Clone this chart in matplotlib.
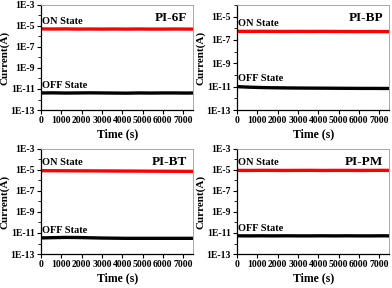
"""
Retention test of the four PI memory devices (ON / OFF current vs time).
"""

import math
import matplotlib.pyplot as plt
from matplotlib.ticker import LogLocator, FixedLocator, FuncFormatter, NullFormatter

plt.rcParams["font.family"] = ["Liberation Serif", "DejaVu Serif"]
plt.rcParams["font.weight"] = "bold"

# sample times (s)
time_s = [0, 600, 1200, 1800, 2400, 3000, 3600, 4200, 4800, 5400, 6000, 6600, 7200, 7500]

names = ["PI-6F", "PI-BP", "PI-BT", "PI-PM"]

on_6f = [5.2e-6, 5.1e-6, 5.2e-6, 5.0e-6, 5.1e-6, 5.0e-6, 5.1e-6, 5.0e-6, 5.1e-6, 5.0e-6, 5.0e-6, 5.1e-6, 5.0e-6, 5.0e-6]
off_6f = [4.2e-12, 4.3e-12, 4.1e-12, 4.2e-12, 4.3e-12, 4.2e-12, 4.1e-12, 4.0e-12, 4.2e-12, 4.1e-12, 4.2e-12, 4.2e-12, 4.1e-12, 4.2e-12]

on_bp = [5.5e-7, 5.4e-7, 5.5e-7, 5.4e-7, 5.3e-7, 5.4e-7, 5.3e-7, 5.4e-7, 5.3e-7, 5.3e-7, 5.2e-7, 5.3e-7, 5.2e-7, 5.2e-7]
off_bp = [1.0e-11, 9.0e-12, 8.4e-12, 8.0e-12, 7.8e-12, 7.6e-12, 7.5e-12, 7.4e-12, 7.3e-12, 7.2e-12, 7.1e-12, 7.1e-12, 7.0e-12, 7.0e-12]

on_bt = [8.5e-6, 8.4e-6, 8.3e-6, 8.2e-6, 8.1e-6, 8.0e-6, 7.9e-6, 7.8e-6, 7.7e-6, 7.6e-6, 7.5e-6, 7.4e-6, 7.3e-6, 7.3e-6]
off_bt = [3.4e-12, 3.6e-12, 3.8e-12, 3.7e-12, 3.5e-12, 3.3e-12, 3.2e-12, 3.1e-12, 3.1e-12, 3.1e-12, 3.1e-12, 3.1e-12, 3.1e-12, 3.1e-12]

on_pm = [9.0e-6, 8.9e-6, 9.1e-6, 9.0e-6, 8.9e-6, 9.0e-6, 9.1e-6, 8.9e-6, 9.0e-6, 9.0e-6, 8.9e-6, 9.0e-6, 9.1e-6, 9.0e-6]
off_pm = [5.4e-12, 5.3e-12, 5.4e-12, 5.3e-12, 5.4e-12, 5.3e-12, 5.3e-12, 5.4e-12, 5.3e-12, 5.4e-12, 5.3e-12, 5.3e-12, 5.4e-12, 5.3e-12]

on_series = [on_6f, on_bp, on_bt, on_pm]
off_series = [off_6f, off_bp, off_bt, off_pm]
y_top = [1e-3, 1e-4, 1e-3, 1e-3]
major_exp = [[-13, -11, -9, -7, -5, -3], [-13, -11, -9, -7, -5],
             [-13, -11, -9, -7, -5, -3], [-13, -11, -9, -7, -5, -3]]
x_ticks = [0, 1000, 2000, 3000, 4000, 5000, 6000, 7000]


def exp_label(v, pos):
    return "1E%d" % round(math.log10(v))


fig = plt.figure(figsize=(3.92, 2.88), dpi=100)
positions = [
    [0.105, 0.618, 0.388, 0.365],
    [0.605, 0.618, 0.388, 0.365],
    [0.105, 0.118, 0.388, 0.365],
    [0.605, 0.118, 0.388, 0.365],
]

for i, name in enumerate(names):
    ax = fig.add_axes(positions[i])
    ax.plot(time_s, on_series[i], color="#ff0000", lw=2.4)
    ax.plot(time_s, off_series[i], color="black", lw=2.4)
    ax.set_yscale("log")
    ax.set_ylim(1e-13, y_top[i])
    ax.set_xlim(0, 7500)

    ax.yaxis.set_major_locator(FixedLocator([10.0 ** e for e in major_exp[i]]))
    ax.yaxis.set_major_formatter(FuncFormatter(exp_label))
    ax.yaxis.set_minor_locator(LogLocator(base=10, subs=(1.0,), numticks=20))
    ax.yaxis.set_minor_formatter(NullFormatter())
    ax.set_xticks(x_ticks)

    ax.tick_params(axis="both", which="major", direction="out", length=3, width=0.8,
                   labelsize=7, pad=1.5)
    ax.tick_params(axis="y", which="minor", direction="out", length=2, width=0.6)
    for lab in ax.get_xticklabels() + ax.get_yticklabels():
        lab.set_fontweight("bold")

    for side in ["left", "bottom"]:
        ax.spines[side].set_linewidth(0.9)
    for side in ["top", "right"]:
        ax.spines[side].set_color("#999999")
        ax.spines[side].set_linewidth(0.6)

    ax.set_xlabel("Time (s)", fontsize=8.5, fontweight="bold", labelpad=2)
    ax.set_ylabel("Current(A)", fontsize=8, fontweight="bold")
    ax.yaxis.set_label_coords(-0.21, 0.5)

    ax.text(0.96, 0.93, name, transform=ax.transAxes, ha="right", va="top",
            fontsize=9.5, fontweight="bold")
    ax.text(40, on_series[i][0] * 2.0, "ON State", ha="left", va="bottom",
            fontsize=7.5, fontweight="bold")
    ax.text(40, off_series[i][0] * 2.0, "OFF State", ha="left", va="bottom",
            fontsize=7.5, fontweight="bold")

fig.savefig("out.png", dpi=100)
